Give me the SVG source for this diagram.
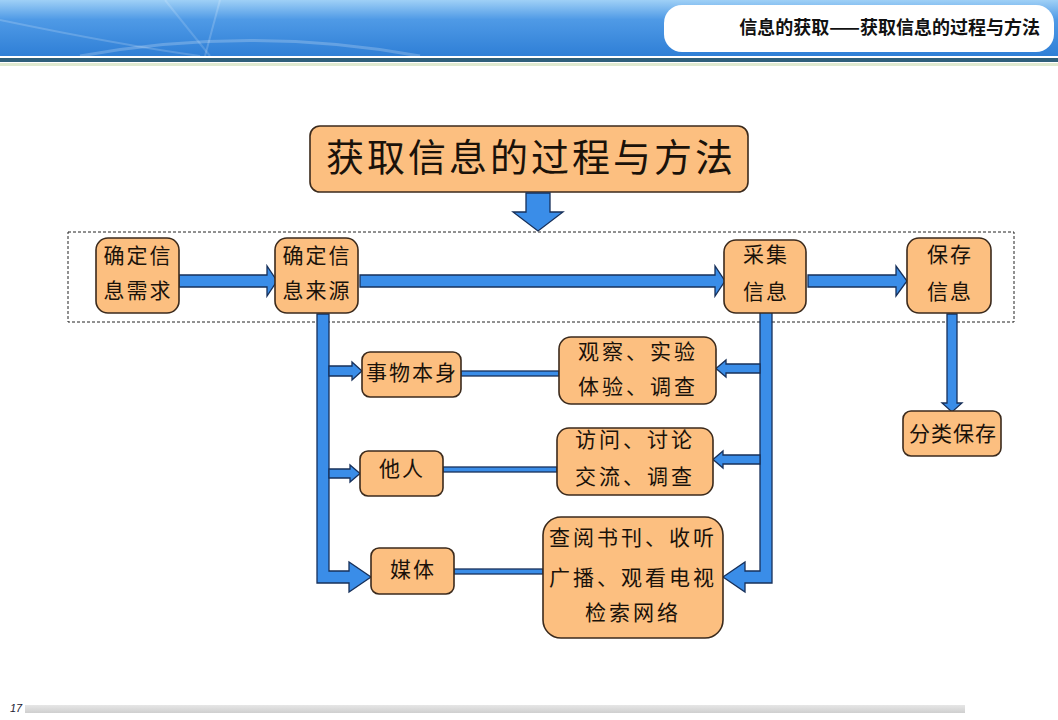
<svg xmlns="http://www.w3.org/2000/svg" width="1058" height="720" viewBox="0 0 1058 720">
<defs>
<linearGradient id="hdr" x1="0" y1="0" x2="0" y2="1">
<stop offset="0" stop-color="#9fd0f6"/>
<stop offset="0.35" stop-color="#4f9ae6"/>
<stop offset="1" stop-color="#2f7fd6"/>
</linearGradient>
<linearGradient id="bar" x1="0" y1="0" x2="0" y2="1">
<stop offset="0" stop-color="#e6e6e6"/>
<stop offset="1" stop-color="#cfcfcf"/>
</linearGradient>
<style>
.node{fill:#fcbf80;stroke:#3b2a1c;stroke-width:1.6}
.t{font-family:"Noto Sans CJK SC","Noto Sans CJK TC",sans-serif;font-size:21px;fill:#1a120a;text-anchor:middle;letter-spacing:2px}
.arr{fill:#3a8de8;stroke:#17305a;stroke-width:1.3;stroke-linejoin:miter}
</style>
</defs>

<g id="header">
<rect x="0" y="0" width="1058" height="56" fill="url(#hdr)"/>
<path d="M0 20 Q120 45 200 56" fill="none" stroke="#ffffff" stroke-opacity="0.18" stroke-width="2"/>
<path d="M80 56 Q250 25 420 56" fill="none" stroke="#ffffff" stroke-opacity="0.22" stroke-width="3"/>
<path d="M165 0 L210 56" fill="none" stroke="#ffffff" stroke-opacity="0.15" stroke-width="2"/>
<path d="M220 0 L205 56" fill="none" stroke="#ffffff" stroke-opacity="0.18" stroke-width="2"/>
<rect x="664" y="5" width="390" height="47" rx="18" fill="#ffffff"/>
<text x="1040" y="34" font-family="'Noto Sans CJK SC',sans-serif" font-size="18" font-weight="bold" fill="#111" text-anchor="end">信息的获取——获取信息的过程与方法</text>
<rect x="0" y="58" width="1058" height="4" fill="#2f5f7a"/>
<rect x="0" y="63" width="1058" height="3" fill="#dfe9cf"/>
</g>

<g id="title">
<rect x="310" y="126" width="438" height="66" rx="10" class="node"/>
<text x="531" y="171" class="t" style="font-size:38px;letter-spacing:3px">获取信息的过程与方法</text>
</g>

<rect id="stage-frame" x="68" y="232" width="946" height="90" fill="none" stroke="#222" stroke-width="1" stroke-dasharray="3,2"/>

<g id="connectors">
<path class="arr" d="M526 193 H550 V212 H563 L538 231 L513 212 H526 Z"/>
<path class="arr" d="M179 275 H267 V266 L277 281 L267 296 V287 H179 Z"/>
<path class="arr" d="M360 275 H715 V266 L725 281 L715 296 V287 H360 Z"/>
<path class="arr" d="M808 275 H896 V266 L907 281 L896 296 V287 H808 Z"/>
<path class="arr" d="M947 314 H957 V403 H962 L952 412 L942 403 H947 Z"/>
<path class="arr" d="M317 314 H329 V571 H349 V562 L371 577 L349 592 V583 H317 Z"/>
<path class="arr" d="M329 366 H352 V362 L362 371 L352 380 V376 H329 Z"/>
<path class="arr" d="M329 469 H350 V465 L360 473.5 L350 482 V478 H329 Z"/>
<path class="arr" d="M760 312 H772 V583 H745 V592 L723 577 L745 562 V571 H760 Z"/>
<path class="arr" d="M760 364 H726 V360 L716 368.5 L726 377 V373 H760 Z"/>
<path class="arr" d="M760 455 H723 V451 L713 459.5 L723 468 V464 H760 Z"/>
<rect class="arr" x="461" y="371" width="98" height="5"/>
<rect class="arr" x="443" y="467" width="114" height="5"/>
<rect class="arr" x="454" y="569" width="89" height="5"/>
</g>

<g id="n-need">
<rect x="96" y="238" width="83" height="75" rx="12" class="node"/>
<text x="138" y="263" class="t">确定信</text>
<text x="138" y="298" class="t">息需求</text>
</g>
<g id="n-source">
<rect x="275" y="238" width="83" height="75" rx="12" class="node"/>
<text x="317" y="263" class="t">确定信</text>
<text x="317" y="298" class="t">息来源</text>
</g>
<g id="n-collect">
<rect x="724" y="240" width="82" height="73" rx="12" class="node"/>
<text x="766" y="262" class="t">采集</text>
<text x="766" y="299" class="t">信息</text>
</g>
<g id="n-save">
<rect x="907" y="238" width="84" height="75" rx="12" class="node"/>
<text x="950" y="262" class="t">保存</text>
<text x="950" y="299" class="t">信息</text>
</g>
<g id="n-classify">
<rect x="903" y="411" width="98" height="45" rx="8" class="node"/>
<text x="953" y="441" class="t" style="letter-spacing:1px">分类保存</text>
</g>
<g id="n-thing">
<rect x="362" y="352" width="99" height="45" rx="8" class="node"/>
<text x="412" y="380" class="t">事物本身</text>
</g>
<g id="n-observe">
<rect x="559" y="337" width="157" height="67" rx="12" class="node"/>
<text x="638" y="359" class="t" style="letter-spacing:3px">观察、实验</text>
<text x="638" y="394" class="t" style="letter-spacing:3px">体验、调查</text>
</g>
<g id="n-people">
<rect x="360" y="451" width="83" height="45" rx="8" class="node"/>
<text x="402" y="476" class="t">他人</text>
</g>
<g id="n-visit">
<rect x="557" y="428" width="156" height="67" rx="12" class="node"/>
<text x="635" y="447" class="t" style="letter-spacing:3px">访问、讨论</text>
<text x="635" y="484" class="t" style="letter-spacing:3px">交流、调查</text>
</g>
<g id="n-media">
<rect x="371" y="548" width="83" height="46" rx="8" class="node"/>
<text x="413" y="577" class="t">媒体</text>
</g>
<g id="n-search">
<rect x="543" y="517" width="180" height="121" rx="18" class="node"/>
<text x="633" y="545" class="t" style="letter-spacing:3px">查阅书刊、收听</text>
<text x="633" y="585" class="t" style="letter-spacing:3px">广播、观看电视</text>
<text x="633" y="620" class="t" style="letter-spacing:3px">检索网络</text>
</g>

<g id="footer">
<text x="10" y="712" font-family="'Liberation Sans',sans-serif" font-size="11" font-style="italic" fill="#223">17</text>
<rect x="25" y="705" width="940" height="8" fill="url(#bar)"/>
</g>
</svg>
